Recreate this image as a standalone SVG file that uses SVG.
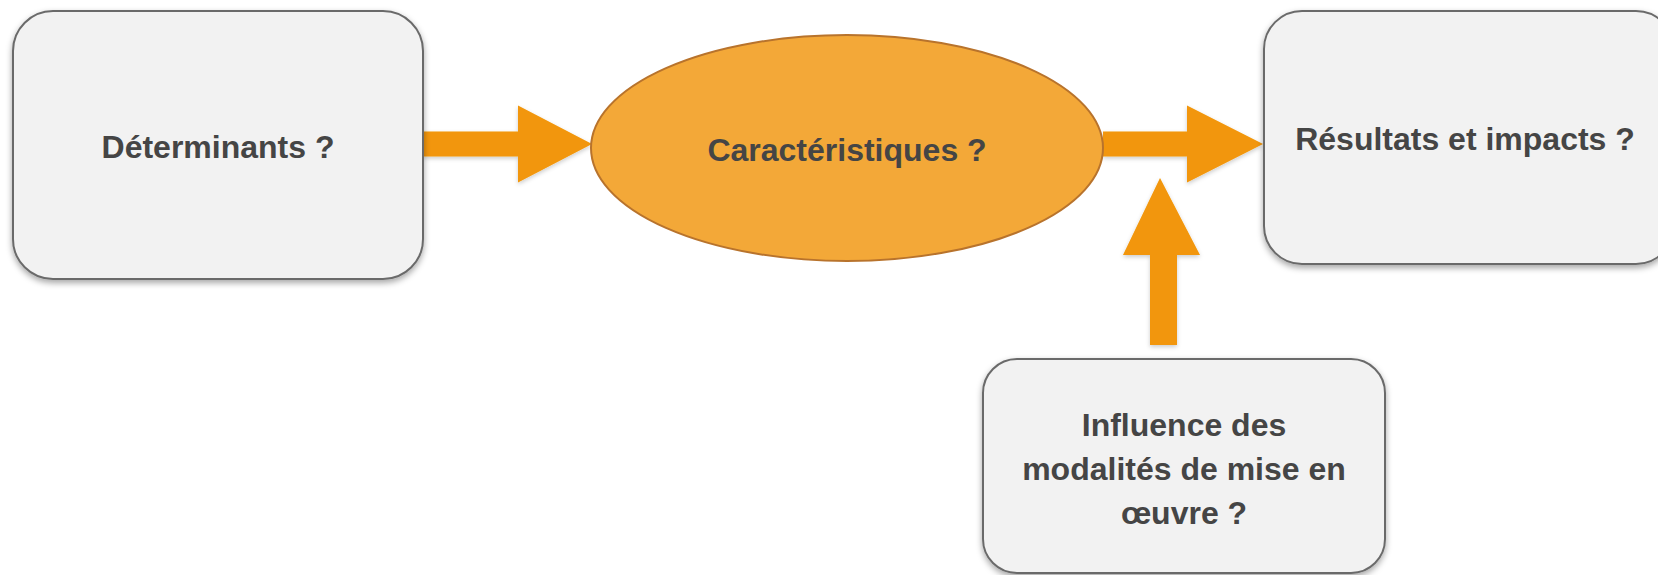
<svg xmlns="http://www.w3.org/2000/svg" width="1658" height="575" viewBox="0 0 1658 575">
  <defs>
    <filter id="shadow" x="-10%" y="-10%" width="120%" height="130%">
      <feDropShadow dx="0" dy="3" stdDeviation="3" flood-color="#000" flood-opacity="0.35"/>
    </filter>
    <filter id="ashadow" x="-10%" y="-10%" width="120%" height="130%">
      <feDropShadow dx="0" dy="2" stdDeviation="2" flood-color="#000" flood-opacity="0.2"/>
    </filter>
  </defs>
  <style>
    .box { fill: #F2F2F2; stroke: #6B6B6B; stroke-width: 2; }
    .oval { fill: #F3A838; stroke: #B8732C; stroke-width: 2; }
    .arrow { fill: #F29608; }
    .label { font-family: "Liberation Sans", Arial, sans-serif; font-weight: bold; font-size: 32px; fill: #454545; text-anchor: middle; }
  </style>
  <rect width="1658" height="575" fill="#FFFFFF"/>

  <g id="connectors" filter="url(#ashadow)">
    <polygon class="arrow" points="423,131.5 518,131.5 518,105.5 592,144 518,182.5 518,156.5 423,156.5"/>
    <polygon class="arrow" points="1103,131.5 1187,131.5 1187,105.5 1263,144 1187,182.5 1187,156.5 1103,156.5"/>
    <polygon class="arrow" points="1150,345 1150,255 1123,255 1160,178 1200,255 1177,255 1177,345"/>
  </g>

  <g id="node-determinants">
    <rect class="box" x="13" y="11" width="410" height="268" rx="40" ry="40" filter="url(#shadow)"/>
    <text class="label" x="218" y="158">Déterminants ?</text>
  </g>

  <g id="node-caracteristiques">
    <ellipse class="oval" cx="847" cy="148" rx="256" ry="113"/>
    <text class="label" x="847" y="161">Caractéristiques ?</text>
  </g>

  <g id="node-resultats">
    <rect class="box" x="1264" y="11" width="410" height="253" rx="38" ry="38" filter="url(#shadow)"/>
    <text class="label" x="1465" y="150">Résultats et impacts ?</text>
  </g>

  <g id="node-influence">
    <rect class="box" x="983" y="359" width="402" height="214" rx="34" ry="34" filter="url(#shadow)"/>
    <text class="label" x="1184" y="436">Influence des</text>
    <text class="label" x="1184" y="480">modalités de mise en</text>
    <text class="label" x="1184" y="524">œuvre ?</text>
  </g>
</svg>
